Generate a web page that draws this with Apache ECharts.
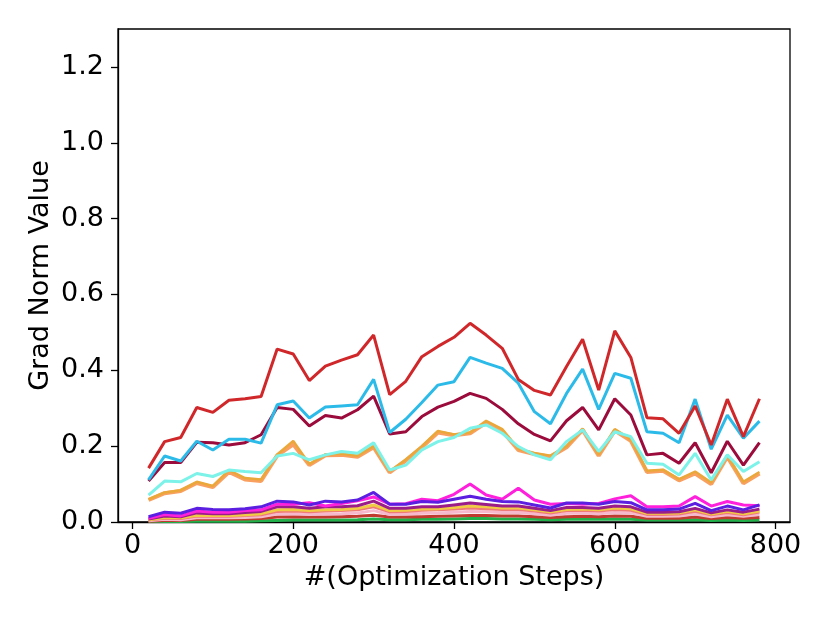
<!DOCTYPE html>
<html>
<head>
<meta charset="utf-8"/>
<title>Grad Norm</title>
<script src="https://cdn.jsdelivr.net/npm/echarts@6/dist/echarts.min.js"></script>
<style>
  html, body { margin: 0; padding: 0; background: #fff; }
</style>
</head>
<body>
<div id="Echarts" style="width: 830px;height: 623px;"></div>
<script>
// steps 20..780
var steps = [20,40,60,80,100,120,140,160,180,200,220,240,260,280,300,320,340,360,380,400,
             420,440,460,480,500,520,540,560,580,600,620,640,660,680,700,720,740,760,780];

var xTicks = [0, 200, 400, 600, 800];
var yTicks = [0, 0.2, 0.4, 0.6, 0.8, 1.0, 1.2];

var red = [0.142,0.212,0.223,0.302,0.289,0.321,0.325,0.331,0.456,0.443,0.373,0.411,0.427,0.441,0.493,0.336,0.371,0.436,0.463,0.487,
           0.524,0.493,0.458,0.376,0.347,0.335,0.410,0.482,0.348,0.504,0.434,0.275,0.272,0.234,0.306,0.203,0.324,0.225,0.325];
var blue = [0.111,0.174,0.161,0.213,0.190,0.218,0.218,0.208,0.309,0.319,0.274,0.303,0.306,0.309,0.376,0.236,0.271,0.315,0.361,0.370,
            0.434,0.419,0.405,0.366,0.291,0.259,0.339,0.403,0.297,0.392,0.379,0.238,0.234,0.209,0.324,0.192,0.282,0.221,0.266];
var crimson = [0.108,0.157,0.157,0.210,0.209,0.203,0.209,0.230,0.302,0.297,0.253,0.281,0.274,0.296,0.332,0.232,0.238,0.278,0.303,0.318,
               0.339,0.326,0.297,0.259,0.231,0.214,0.267,0.302,0.243,0.325,0.282,0.177,0.181,0.155,0.209,0.130,0.213,0.150,0.209];
var aqua = [0.071,0.108,0.106,0.128,0.120,0.137,0.133,0.130,0.174,0.181,0.164,0.177,0.186,0.181,0.209,0.137,0.150,0.190,0.212,0.223,
            0.247,0.256,0.234,0.199,0.177,0.164,0.212,0.243,0.186,0.238,0.225,0.155,0.152,0.124,0.181,0.111,0.177,0.133,0.159];
var orange = [0.058,0.076,0.082,0.103,0.092,0.132,0.112,0.108,0.175,0.205,0.150,0.176,0.177,0.172,0.197,0.131,0.162,0.197,0.236,0.229,
              0.234,0.262,0.240,0.190,0.179,0.172,0.197,0.243,0.175,0.241,0.214,0.132,0.135,0.110,0.128,0.100,0.172,0.102,0.128];
var golden = [0.060,0.078,0.084,0.106,0.095,0.137,0.116,0.112,0.178,0.214,0.153,0.178,0.180,0.175,0.200,0.134,0.165,0.200,0.240,0.231,
              0.236,0.267,0.245,0.193,0.182,0.175,0.200,0.246,0.178,0.245,0.218,0.135,0.138,0.113,0.133,0.104,0.176,0.106,0.132];
var purple = [0.014,0.026,0.023,0.036,0.033,0.032,0.035,0.040,0.055,0.053,0.045,0.055,0.053,0.058,0.078,0.047,0.047,0.054,0.052,0.060,
              0.068,0.060,0.054,0.053,0.045,0.037,0.050,0.050,0.047,0.054,0.051,0.032,0.032,0.034,0.049,0.030,0.042,0.032,0.045];
var magenta = [0.010,0.020,0.016,0.029,0.026,0.026,0.030,0.032,0.047,0.047,0.051,0.042,0.049,0.056,0.066,0.047,0.048,0.060,0.056,0.073,
               0.100,0.071,0.060,0.089,0.058,0.047,0.049,0.047,0.049,0.061,0.069,0.040,0.040,0.042,0.067,0.042,0.054,0.045,0.043];
var plum = [0.008,0.016,0.014,0.024,0.022,0.022,0.025,0.028,0.040,0.040,0.036,0.040,0.040,0.043,0.055,0.036,0.036,0.040,0.040,0.045,
            0.050,0.046,0.042,0.042,0.036,0.030,0.038,0.038,0.036,0.042,0.040,0.026,0.026,0.027,0.036,0.024,0.032,0.026,0.034];
var yellow = [0.006,0.012,0.011,0.018,0.017,0.017,0.019,0.022,0.032,0.033,0.030,0.032,0.033,0.036,0.045,0.030,0.031,0.034,0.035,0.038,
              0.042,0.040,0.037,0.037,0.032,0.027,0.033,0.034,0.032,0.037,0.035,0.023,0.023,0.024,0.032,0.021,0.028,0.022,0.029];
var salmon = [0.005,0.010,0.009,0.016,0.015,0.015,0.017,0.019,0.028,0.029,0.027,0.029,0.030,0.032,0.040,0.027,0.028,0.031,0.032,0.034,
              0.037,0.035,0.033,0.033,0.029,0.024,0.030,0.031,0.029,0.033,0.031,0.020,0.020,0.021,0.028,0.019,0.025,0.019,0.026];
var pink = [0.003,0.007,0.006,0.011,0.011,0.011,0.012,0.014,0.021,0.022,0.020,0.021,0.022,0.024,0.030,0.020,0.021,0.023,0.024,0.026,
            0.028,0.027,0.025,0.025,0.022,0.018,0.023,0.023,0.022,0.025,0.024,0.015,0.015,0.016,0.021,0.014,0.019,0.015,0.020];
var brown = [0.002,0.004,0.004,0.007,0.007,0.007,0.008,0.009,0.013,0.014,0.013,0.013,0.014,0.015,0.018,0.013,0.013,0.014,0.015,0.016,
             0.017,0.017,0.016,0.016,0.014,0.012,0.014,0.015,0.014,0.016,0.015,0.010,0.010,0.010,0.013,0.009,0.012,0.010,0.012];
var green = [0.001,0.001,0.001,0.002,0.002,0.002,0.002,0.003,0.004,0.005,0.005,0.005,0.005,0.006,0.008,0.006,0.006,0.007,0.007,0.008,
             0.009,0.009,0.008,0.008,0.007,0.006,0.007,0.007,0.007,0.008,0.007,0.005,0.005,0.005,0.006,0.004,0.005,0.004,0.005];

// draw order: first = bottom
var lines = [
  { d: green,   c: '#21b04a', w: 3 },
  { d: brown,   c: '#c03a30', w: 3 },
  { d: pink,    c: '#f6b8cc', w: 3 },
  { d: salmon,  c: '#f07a78', w: 3 },
  { d: yellow,  c: '#f0cc44', w: 3 },
  { d: plum,    c: '#9a1d8a', w: 3 },
  { d: magenta, c: '#ff20dc', w: 3 },
  { d: purple,  c: '#5a1fe0', w: 3 },
  { d: orange,  c: '#f9a060', w: 4 },
  { d: golden,  c: '#eba83a', w: 2.5 },
  { d: aqua,    c: '#7cf2e8', w: 3 },
  { d: crimson, c: '#9b0b3c', w: 3 },
  { d: blue,    c: '#2cbbe9', w: 3 },
  { d: red,     c: '#d0282a', w: 3 }
];

var series = [];
for (var i = 0; i < lines.length; i++) {
  var pts = [];
  for (var j = 0; j < steps.length; j++) {
    pts.push([steps[j], lines[i].d[j]]);
  }
  series.push({
    type: 'line',
    data: pts,
    symbol: 'none',
    silent: true,
    z: 2 + i,
    lineStyle: { color: lines[i].c, width: lines[i].w }
  });
}

var font = 'DejaVu Sans';
var myChart = echarts.init(document.getElementById('Echarts'));
myChart.setOption({
  animation: false,
  backgroundColor: '#fff',
  grid: {
    left: 118, right: 40, top: 29, bottom: 101,
    show: true, borderColor: '#000', borderWidth: 1.3, backgroundColor: 'transparent'
  },
  xAxis: {
    type: 'value',
    min: -18, max: 818,
    name: '#(Optimization Steps)',
    nameLocation: 'middle',
    nameGap: 42,
    nameMoveOverlap: false,
    nameTextStyle: { fontFamily: font, fontSize: 27, color: '#000' },
    axisLine: { show: true, onZero: false, lineStyle: { color: '#000', width: 1.3 } },
    axisTick: { show: true, length: 7, customValues: xTicks, lineStyle: { color: '#000', width: 1.3 } },
    axisLabel: { customValues: xTicks, margin: 10, fontFamily: font, fontSize: 27, color: '#000' },
    splitLine: { show: false }
  },
  yAxis: {
    type: 'value',
    min: 0, max: 1.3,
    name: 'Grad Norm Value',
    nameLocation: 'middle',
    nameGap: 64,
    nameMoveOverlap: false,
    nameTextStyle: { fontFamily: font, fontSize: 27, color: '#000' },
    axisLine: { show: true, onZero: false, lineStyle: { color: '#000', width: 1.3 } },
    axisTick: { show: true, length: 7, customValues: yTicks, lineStyle: { color: '#000', width: 1.3 } },
    axisLabel: {
      customValues: yTicks, margin: 14, fontFamily: font, fontSize: 27, color: '#000',
      formatter: function (v) { return v.toFixed(1); }
    },
    splitLine: { show: false }
  },
  series: series
});
</script>
</body>
</html>
